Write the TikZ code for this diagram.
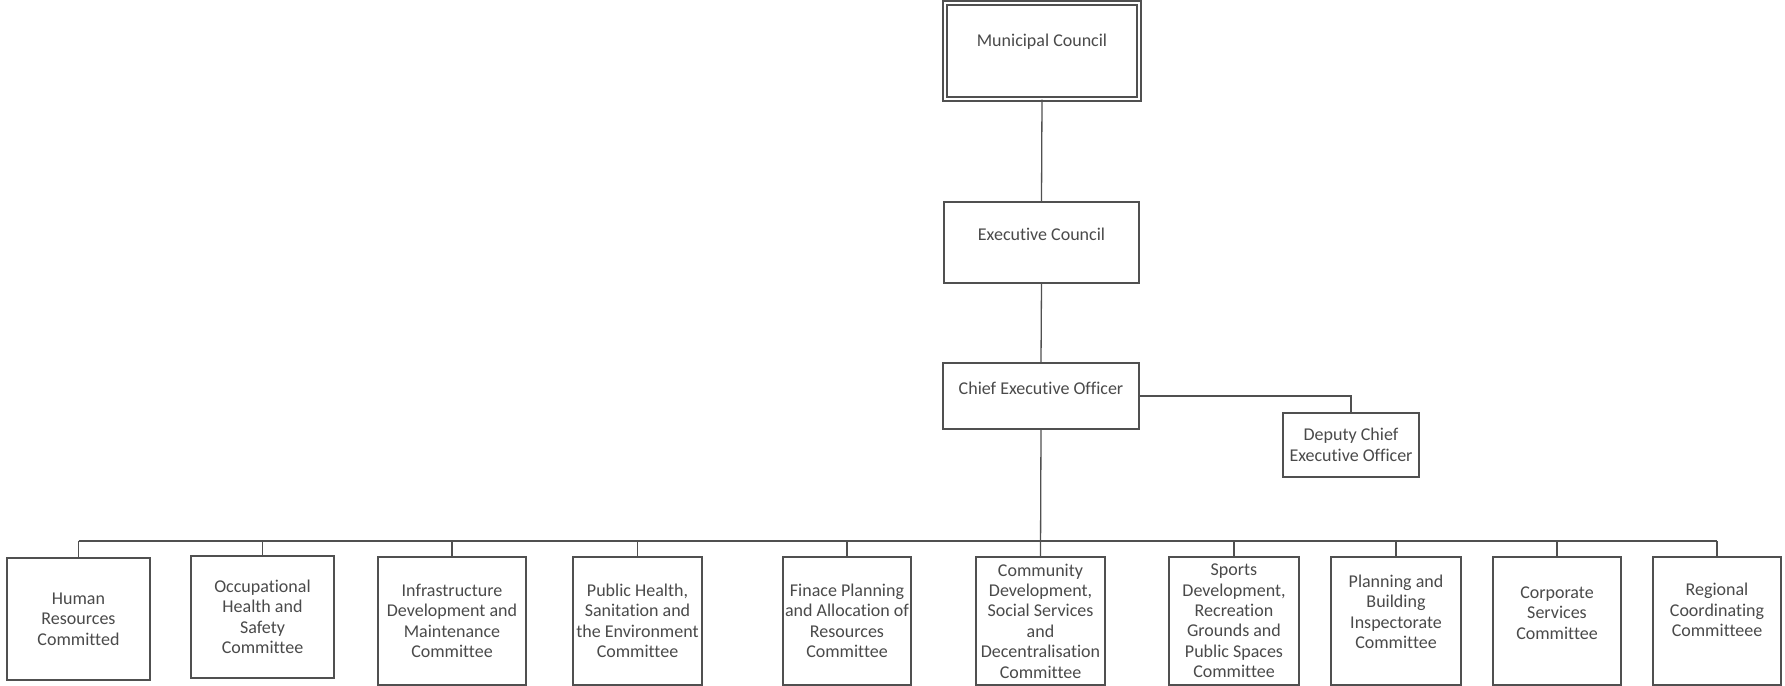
\documentclass[tikz,border=0pt]{standalone}
\usepackage{fontspec}
\setmainfont{Carlito}[Ligatures=NoCommon]
\definecolor{linec}{HTML}{505050}
\definecolor{textc}{HTML}{4A4A4A}
\begin{document}
\begin{tikzpicture}[x=0.5pt,y=-0.5pt,
  box/.style={draw=linec, line width=0.65pt, rectangle, inner sep=0pt,
    font=\fontsize{9}{10.2}\selectfont, text=textc, align=center},
  lbl/.style={inner sep=0pt, font=\fontsize{9}{10.2}\selectfont, text=textc, align=center},
  conn/.style={draw=linec, line width=0.65pt}]
\useasboundingbox[fill=white] (0,0) rectangle (1785,686);
% top chain
\node[box, double=white, double distance=1.4pt, minimum width=97pt, minimum height=48pt] (mc) at (1042,51) {};
\node[lbl] (mct) at (1042,42) {Municipal Council};
\node[box, minimum width=97.5pt, minimum height=40.5pt] (ec) at (1041.5,242.5) {};
\node[lbl] (ect) at (1041.5,234) {Executive Council};
\node[box, minimum width=98pt, minimum height=33pt] (ceo) at (1041,396) {};
\node[lbl] (ceot) at (1041,388) {Chief Executive Officer};
\node[box, minimum width=68pt, minimum height=32pt] (dep) at (1351,445) {Deputy Chief\\Executive Officer};
% bottom row
\node[box, minimum width=71.5pt, minimum height=61pt] (hr) at (78.5,619) {Human\\Resources\\Committed};
\node[box, minimum width=71.5pt, minimum height=61pt] (occ) at (262.5,617) {Occupational\\Health and\\Safety\\Committee};
\node[box, minimum width=74pt, minimum height=64pt] (inf) at (452,621) {Infrastructure\\Development and\\Maintenance\\Committee};
\node[box, minimum width=64.5pt, minimum height=64pt] (ph) at (637.5,621) {Public Health,\\Sanitation and\\the Environment\\Committee};
\node[box, minimum width=64pt, minimum height=64pt] (fin) at (847,621) {Finace Planning\\and Allocation of\\Resources\\Committee};
\node[box, minimum width=64.5pt, minimum height=64pt] (com) at (1040.5,621) {Community\\Development,\\Social Services\\and\\Decentralisation\\Committee};
\node[box, minimum width=65pt, minimum height=64pt] (spo) at (1234,621) {Sports\\Development,\\Recreation\\Grounds and\\Public Spaces\\Committee};
\node[box, minimum width=65pt, minimum height=64pt] (pla) at (1396,621) {};
\node[lbl] (plat) at (1396,612) {Planning and\\Building\\Inspectorate\\Committee};
\node[box, minimum width=64pt, minimum height=64pt] (cor) at (1557,621) {};
\node[lbl] (cort) at (1557,613) {Corporate\\Services\\Committee};
\node[box, minimum width=64pt, minimum height=64pt] (reg) at (1717,621) {};
\node[lbl] (regt) at (1717,610) {Regional\\Coordinating\\Committeee};
% connectors
\coordinate (bus) at (0,541);
\draw[conn] (mc.south) -- (ec.north);
\draw[conn] (ec.south) -- (ceo.north);
\draw[conn] (ceo.east) -| (dep.north);
\draw[conn] (ceo.south) -- (com.north);
\draw[conn] (hr.north |- bus) -- (reg.north |- bus);
\foreach \n in {hr,occ,inf,ph,fin,spo,pla,cor,reg}
  \draw[conn] (\n.north) -- (\n.north |- bus);
\end{tikzpicture}
\end{document}
